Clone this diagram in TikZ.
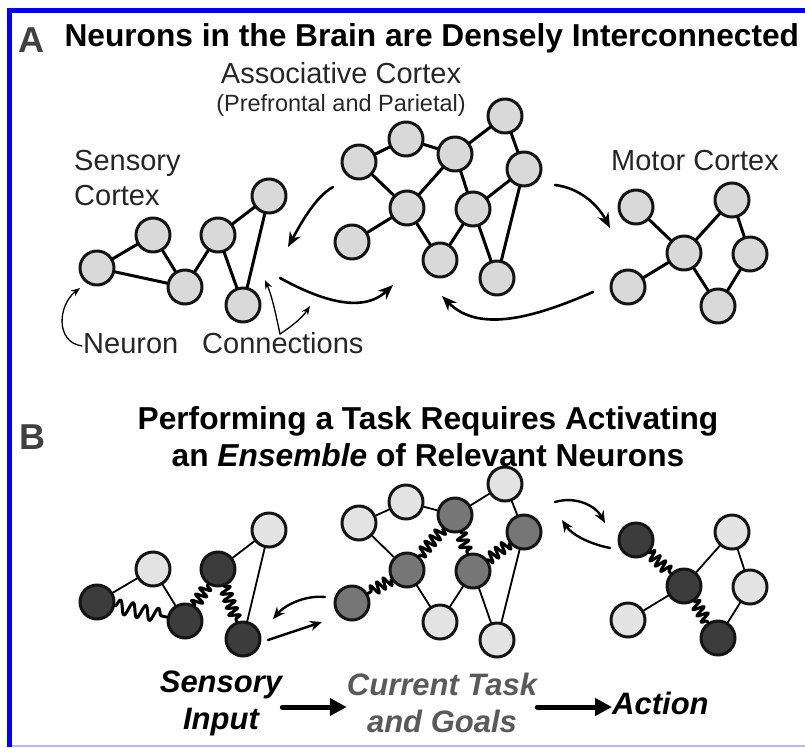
\documentclass[tikz,border=0pt]{standalone}
\usepackage{fontspec}
\setmainfont{Liberation Sans}
\usetikzlibrary{arrows.meta,decorations.pathmorphing}

\definecolor{cellgray}{HTML}{D9D9D9}
\definecolor{cellpale}{HTML}{E3E3E3}
\definecolor{cellmid}{HTML}{767676}
\definecolor{celldark}{HTML}{3C3C3C}
\definecolor{frameblue}{HTML}{0000FF}
\definecolor{framepale}{HTML}{B4B4FF}
\definecolor{goalgray}{HTML}{5A5A5A}

\tikzset{
  cell/.style={circle, draw=black!92, line width=3pt, fill=cellgray, minimum size=34pt, inner sep=0pt},
  cellpale/.style={cell, fill=cellpale},
  cellmid/.style={cell, fill=cellmid},
  celldark/.style={cell, fill=celldark},
  link/.style={line width=3pt},
  weaklink/.style={line width=1.8pt},
  coillink/.style={line width=3pt, decorate, decoration={snake, amplitude=5.5pt, segment length=7.5pt}},
  bigarrow/.style={line width=2.6pt, -{Stealth[length=15pt, width=12pt]}},
  midarrow/.style={line width=2.4pt, -{Stealth[length=12pt, width=10pt]}},
  smallarrow/.style={line width=1.3pt, -{Stealth[length=9pt, width=7pt]}},
  flow/.style={line width=5pt, -{Triangle[length=17pt, width=17pt]}},
  panel/.style={text=black!75, font=\bfseries\fontsize{36}{36}\selectfont},
  title/.style={font=\bfseries\fontsize{31.7}{37}\selectfont},
  lbl/.style={text=black!85, inner sep=0pt, font=\fontsize{29}{35}\selectfont},
  sublbl/.style={text=black!85, inner sep=0pt, font=\fontsize{23.5}{26}\selectfont},
  stage/.style={font=\bfseries\itshape\fontsize{31}{37}\selectfont, align=center, inner sep=0pt}
}

\begin{document}
\begin{tikzpicture}[x=1pt, y=-1pt, line cap=round, line join=round]
\useasboundingbox (0,0) rectangle (805,747);

% frame
\fill[frameblue] (7,8) rectangle (805,13);
\fill[frameblue] (7,8) rectangle (12,747);
\fill[framepale] (12,745) rectangle (805,747);

% ---------------- Panel A ----------------
\node[panel] (laba) at (31,40) {A};
\node[title, anchor=base west] (ttla) at (61,46) {Neurons in the Brain are Densely Interconnected};

% labels
\node[lbl, anchor=base] (assoc) at (341,83) {Associative Cortex};
\node[sublbl, anchor=base] (assocsub) at (341,111) {(Prefrontal and Parietal)};
\node[lbl, anchor=base west, align=left] (senslbl) at (74,205) {Sensory\\Cortex};
\node[lbl, anchor=base west] (motorlbl) at (611,170) {Motor Cortex};
\node[lbl, anchor=base west] (neuronlbl) at (83,353) {Neuron};
\node[lbl, anchor=base west] (connlbl) at (202,353) {Connections};

% sensory cortex
\node[cell] (s1) at (97,268) {};
\node[cell] (s2) at (153,235) {};
\node[cell] (s3) at (185,287) {};
\node[cell] (s4) at (218,235) {};
\node[cell] (s5) at (269,196) {};
\node[cell] (s6) at (243,305) {};
\foreach \a/\b in {s1/s2, s1/s3, s2/s3, s3/s4, s4/s5, s4/s6, s5/s6}
  \draw[link] (\a) -- (\b);

% associative cortex
\node[cell] (a1) at (359,162) {};
\node[cell] (a2) at (406,139) {};
\node[cell] (a3) at (455,154) {};
\node[cell] (a4) at (505,116) {};
\node[cell] (a5) at (524,169) {};
\node[cell] (a6) at (407,208) {};
\node[cell] (a7) at (473,209) {};
\node[cell] (a8) at (352,242) {};
\node[cell] (a9) at (440,260) {};
\node[cell] (a10) at (497,278) {};
\foreach \a/\b in {a1/a2, a2/a3, a3/a4, a1/a6, a3/a6, a3/a7, a4/a5, a5/a7, a5/a10, a6/a8, a6/a9, a7/a9, a7/a10}
  \draw[link] (\a) -- (\b);

% motor cortex
\node[cell] (m1) at (636,207) {};
\node[cell] (m2) at (732,200) {};
\node[cell] (m3) at (684,253) {};
\node[cell] (m4) at (750,254) {};
\node[cell] (m5) at (628,287) {};
\node[cell] (m6) at (718,306) {};
\foreach \a/\b in {m1/m3, m2/m3, m2/m4, m3/m5, m3/m6, m4/m6}
  \draw[link] (\a) -- (\b);

% arrows between areas
\draw[bigarrow] (333,187) .. controls (315,197) and (300,225) .. (288,247);
\draw[bigarrow] (280,278) .. controls (320,300) and (362,314) .. (393,285);
\draw[bigarrow] (555,185) .. controls (580,188) and (598,205) .. (610,228);
\draw[bigarrow] (593,292) .. controls (540,315) and (480,335) .. (442,296);

% pointers
\coordinate (neuronend) at (82,346);
\coordinate (fork) at (280,334);
\draw[smallarrow] (neuronend) .. controls (55,342) and (58,305) .. (80,288);
\draw[smallarrow] (fork) .. controls (276,315) and (272,296) .. (265,280);
\draw[smallarrow] (fork) .. controls (292,326) and (302,318) .. (310,306);

% ---------------- Panel B ----------------
\node[panel] (labb) at (32,437) {B};
\node[title, align=center] (ttlb) at (428,437) {Performing a Task Requires Activating\\an \textit{Ensemble} of Relevant Neurons};

% sensory cortex
\node[celldark] (bs1) at (97,602) {};
\node[cellpale] (bs2) at (153,569) {};
\node[celldark] (bs3) at (185,621) {};
\node[celldark] (bs4) at (218,569) {};
\node[cellpale] (bs5) at (269,530) {};
\node[celldark] (bs6) at (243,639) {};
\foreach \a/\b in {bs1/bs2, bs2/bs3, bs4/bs5, bs5/bs6}
  \draw[weaklink] (\a) -- (\b);
\draw[line width=3pt, decorate, decoration={snake, amplitude=7pt, segment length=13pt}] (bs1) -- (bs3);
\foreach \a/\b in {bs3/bs4, bs4/bs6}
  \draw[coillink] (\a) -- (\b);

% associative cortex
\node[cellpale] (ba1) at (359,523) {};
\node[cellpale] (ba2) at (406,502) {};
\node[cellmid] (ba3) at (455,515) {};
\node[cellpale] (ba4) at (505,484) {};
\node[cellmid] (ba5) at (524,532) {};
\node[cellmid] (ba6) at (407,570) {};
\node[cellmid] (ba7) at (473,571) {};
\node[cellmid] (ba8) at (352,603) {};
\node[cellpale] (ba9) at (440,622) {};
\node[cellpale] (ba10) at (497,640) {};
\foreach \a/\b in {ba1/ba2, ba2/ba3, ba3/ba4, ba4/ba5, ba1/ba6, ba5/ba10, ba6/ba9, ba7/ba9, ba7/ba10}
  \draw[weaklink] (\a) -- (\b);
\foreach \a/\b in {ba3/ba6, ba3/ba7, ba5/ba7, ba6/ba8}
  \draw[coillink] (\a) -- (\b);

% motor cortex
\node[celldark] (bm1) at (636,540) {};
\node[cellpale] (bm2) at (732,532) {};
\node[celldark] (bm3) at (684,586) {};
\node[cellpale] (bm4) at (750,587) {};
\node[cellpale] (bm5) at (628,620) {};
\node[celldark] (bm6) at (718,638) {};
\foreach \a/\b in {bm2/bm3, bm2/bm4, bm3/bm5, bm4/bm6}
  \draw[weaklink] (\a) -- (\b);
\foreach \a/\b in {bm1/bm3, bm3/bm6}
  \draw[coillink] (\a) -- (\b);

% arrows between areas
\draw[midarrow] (268,640) -- (322,622);
\draw[midarrow] (325,597) .. controls (305,595) and (285,605) .. (273,619);
\draw[midarrow] (555,502) .. controls (575,496) and (595,505) .. (605,523);
\draw[midarrow] (610,548) .. controls (590,544) and (572,535) .. (562,520);

% stages
\node[stage] (sensin) at (221,703) {Sensory\\Input};
\node[stage, text=goalgray] (goals) at (442,703) {Current Task\\and Goals};
\node[stage, anchor=west] (action) at (612,703) {Action};
\draw[flow] ([yshift=-4pt]sensin.east) -- ([yshift=-4pt]goals.west);
\draw[flow] ([yshift=-4pt]goals.east) -- ([yshift=-4pt]action.west);

\end{tikzpicture}
\end{document}
